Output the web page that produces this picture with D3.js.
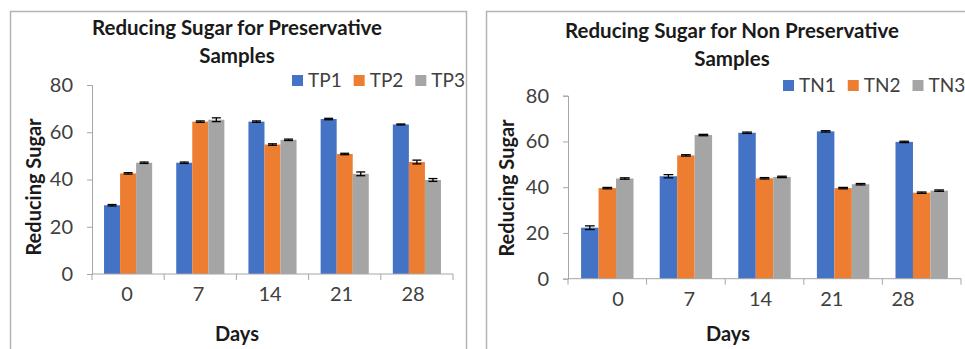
<!DOCTYPE html>
<html>
<head>
<meta charset="utf-8">
<script src="https://cdn.jsdelivr.net/npm/d3@7"></script>
<style>
  html, body { margin: 0; padding: 0; background: #fff; }
  svg { display: block; font-family: Lato, "Open Sans", sans-serif; }
</style>
</head>
<body>
<svg id="chart" width="965" height="349"></svg>
<script>
// ---------- data ----------
const days = ["0", "7", "14", "21", "28"];
const yTicks = [0, 20, 40, 60, 80];

// Preservative samples
const tp1 = [29.1, 47.1, 64.5, 65.6, 63.3];
const tp2 = [42.6, 64.5, 54.8, 50.8, 47.4];
const tp3 = [47.1, 65.3, 56.8, 42.4, 39.8];
const tp1Err = [0.3, 0.3, 0.3, 0.3, 0.2];
const tp2Err = [0.3, 0.3, 0.3, 0.3, 0.8];
const tp3Err = [0.3, 0.8, 0.3, 0.8, 0.6];

// Non preservative samples
const tn1 = [22.3, 44.8, 63.8, 64.4, 59.8];
const tn2 = [39.6, 53.9, 43.9, 39.6, 37.6];
const tn3 = [43.8, 62.8, 44.5, 41.3, 38.5];
const tn1Err = [0.8, 0.7, 0.3, 0.3, 0.3];
const tn2Err = [0.3, 0.3, 0.3, 0.3, 0.3];
const tn3Err = [0.3, 0.3, 0.3, 0.3, 0.3];

const leftSeriesNames = ["TP1", "TP2", "TP3"];
const rightSeriesNames = ["TN1", "TN2", "TN3"];
const colors = ["#4472C4", "#ED7D31", "#A5A5A5"];

// ---------- drawing ----------
const svg = d3.select("#chart");

function drawChart(cfg) {
  const g = svg.append("g");

  // frame
  g.append("rect")
    .attr("x", cfg.frame[0]).attr("y", cfg.frame[1])
    .attr("width", cfg.frame[2]).attr("height", cfg.frame[3])
    .attr("fill", "none").attr("stroke", "#b3b3b3").attr("stroke-width", 1.5);

  const x = d3.scaleBand().domain(days).range(cfg.xRange).paddingInner(0).paddingOuter(0);
  const inner = d3.scaleBand().domain(cfg.names).range([0, x.bandwidth()])
    .paddingInner(0).paddingOuter(0.75);
  const y = d3.scaleLinear().domain([0, 80]).range(cfg.yRange);
  const xLabel = d3.scalePoint().domain(days).range(cfg.labelRange);

  // bars
  cfg.series.forEach((vals, si) => {
    const errs = cfg.errors[si];
    const name = cfg.names[si];
    g.append("g").selectAll("rect").data(vals).join("rect")
      .attr("x", (d, i) => x(days[i]) + inner(name))
      .attr("y", d => y(d))
      .attr("width", inner.bandwidth())
      .attr("height", d => y(0) - y(d))
      .attr("fill", colors[si]);
    const eg = g.append("g").attr("stroke", "#000").attr("stroke-width", 1.3);
    vals.forEach((v, i) => {
      const cx = x(days[i]) + inner(name) + inner.bandwidth() / 2;
      const e = errs[i];
      const cw = inner.bandwidth() * 0.28;
      eg.append("line").attr("x1", cx).attr("x2", cx).attr("y1", y(v + e)).attr("y2", y(v - e));
      eg.append("line").attr("x1", cx - cw).attr("x2", cx + cw).attr("y1", y(v + e)).attr("y2", y(v + e));
      eg.append("line").attr("x1", cx - cw).attr("x2", cx + cw).attr("y1", y(v - e)).attr("y2", y(v - e));
    });
  });

  const axisColor = "#a6a6a6";
  // y axis
  const yAxis = g.append("g").attr("transform", `translate(${cfg.xRange[0]},0)`)
    .call(d3.axisLeft(y).tickValues(yTicks).tickSize(5).tickPadding(14).tickFormat(d3.format("d")));
  yAxis.select(".domain").attr("stroke", axisColor).attr("stroke-width", 1);
  yAxis.selectAll(".tick line").attr("stroke", axisColor);
  yAxis.selectAll(".tick text").attr("fill", "#404040").style("font-size", "20px")
    .style("font-family", "Lato, sans-serif");

  // x axis (category boundary ticks)
  const xAxisG = g.append("g").attr("transform", `translate(0,${cfg.yRange[0]})`);
  xAxisG.append("line").attr("x1", cfg.xRange[0]).attr("x2", cfg.xRange[1])
    .attr("y1", 0).attr("y2", 0).attr("stroke", axisColor);
  const bounds = days.map(d => x(d)).concat([x(days[days.length - 1]) + x.bandwidth()]);
  xAxisG.selectAll("line.tk").data(bounds).join("line").attr("class", "tk")
    .attr("x1", d => d).attr("x2", d => d).attr("y1", 0).attr("y2", 6).attr("stroke", axisColor);
  xAxisG.selectAll("text").data(days).join("text")
    .attr("x", d => xLabel(d)).attr("y", 20).attr("dy", "0.35em")
    .attr("text-anchor", "middle").attr("fill", "#404040")
    .style("font-size", "20px").text(d => d);

  // title
  const t = g.append("text").attr("text-anchor", "middle").attr("fill", "#1a1a1a")
    .style("font-size", "20.5px").style("font-weight", "bold");
  t.append("tspan").attr("x", cfg.titleX).attr("y", cfg.titleY).text(cfg.title[0]);
  t.append("tspan").attr("x", cfg.titleX).attr("y", cfg.titleY + 28).text(cfg.title[1]);

  // axis titles
  g.append("text").attr("text-anchor", "middle").attr("fill", "#1a1a1a")
    .style("font-size", "20px").style("font-weight", "bold")
    .attr("transform", `translate(${cfg.yTitle[0]},${cfg.yTitle[1]}) rotate(-90)`)
    .text("Reducing Sugar");
  g.append("text").attr("text-anchor", "middle").attr("fill", "#1a1a1a")
    .style("font-size", "20px").style("font-weight", "bold")
    .attr("x", cfg.xTitle[0]).attr("y", cfg.xTitle[1]).text("Days");

  // legend
  let lx = cfg.legend[0];
  const ly = cfg.legend[1];
  cfg.names.forEach((n, i) => {
    g.append("rect").attr("x", lx).attr("y", ly - 11).attr("width", 11).attr("height", 11)
      .attr("fill", colors[i]);
    const tx = g.append("text").attr("x", lx + 16).attr("y", ly + 1).attr("fill", "#404040")
      .style("font-size", "19px").text(n);
    const w = tx.node().getComputedTextLength();
    lx = lx + 16 + w + 12;
  });
}

drawChart({
  names: leftSeriesNames,
  series: [tp1, tp2, tp3],
  errors: [tp1Err, tp2Err, tp3Err],
  frame: [10.5, 11.5, 456, 360],
  xRange: [92, 453],
  yRange: [274, 85],
  labelRange: [127, 413],
  title: ["Reducing Sugar for Preservative", "Samples"],
  titleX: 237, titleY: 35,
  yTitle: [41, 187],
  xTitle: [237, 341],
  legend: [292, 86]
});

drawChart({
  names: rightSeriesNames,
  series: [tn1, tn2, tn3],
  errors: [tn1Err, tn2Err, tn3Err],
  frame: [486.5, 11.5, 500, 360],
  xRange: [568, 961],
  yRange: [278.7, 95.7],
  labelRange: [618, 903],
  title: ["Reducing Sugar for Non Preservative", "Samples"],
  titleX: 732, titleY: 38,
  yTitle: [514, 188],
  xTitle: [728, 341],
  legend: [783, 91]
});
</script>
</body>
</html>
